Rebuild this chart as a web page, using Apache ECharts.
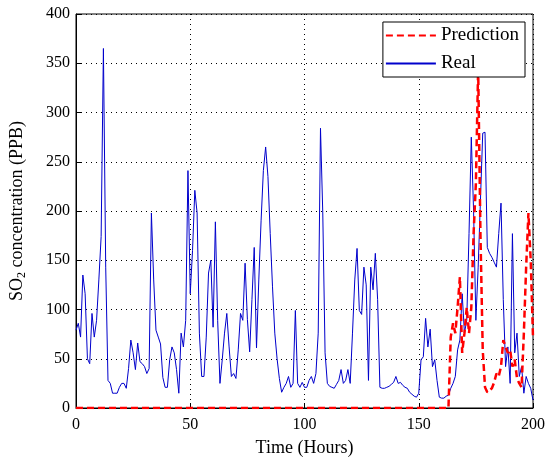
<!DOCTYPE html>
<html><head><meta charset="utf-8">
<script src="https://cdn.jsdelivr.net/npm/echarts@6/dist/echarts.min.js"></script>
<style>html,body{margin:0;padding:0;background:#fff}#c{width:550px;height:464px}</style>
</head><body><div id="c"></div>
<script>
const xTicks = [0, 50, 100, 150, 200];
const yTicks = [0, 50, 100, 150, 200, 250, 300, 350, 400];
// Real SO2 concentration, hour 0..200
const realValues = [
 79,86,72,135,116,50,45,96,72,89,
 130,174,365,143,28,25,15,15,15,21,
 25,25,20,40,69,56,39,66,47,45,
 42,35,40,198,130,79,72,65,31,21,
 21,49,62,56,39,15,76,62,89,241,
 116,160,221,198,76,32,32,72,137,150,
 82,189,89,25,49,76,96,62,32,35,
 30,59,96,89,147,90,57,110,163,61,
 130,190,241,265,235,177,123,76,50,30,
 16,21,25,32,21,25,99,25,21,26,
 21,21,28,32,25,35,76,284,198,56,
 25,22,21,20,24,28,39,25,28,39,
 25,76,130,162,99,95,143,125,28,143,
 120,157,110,21,20,20,21,22,24,26,
 32,25,26,23,21,20,16,14,12,11,
 15,49,52,91,62,80,42,49,28,11,
 10,10,12,13,20,25,32,59,69,116,
 76,89,177,275,200,89,143,211,279,280,
 163,157,153,148,143,177,208,110,42,62,
 25,177,56,76,32,42,15,32,25,20,
 8
];
// Prediction, hour 164..200 (zero before)
const predStart = 164;
const predValues = [
 72,86,76,102,133,56,76,102,76,102,
 177,228,345,177,59,21,16,18,20,26,
 35,32,42,69,62,56,59,42,49,30,
 25,21,76,143,198,150,72
];
const realData = realValues.map((v, i) => [i, v]);
const predData = [];
for (let i = 0; i < predStart; i++) predData.push([i, 0]);
predValues.forEach((v, i) => predData.push([predStart + i, v]));

const serif = 'Liberation Serif';
const chart = echarts.init(document.getElementById('c'));
chart.setOption({
  animation: false,
  backgroundColor: '#fff',
  grid: { left: 76, right: 17, top: 14, bottom: 56, show: true, borderColor: '#000', borderWidth: 1,
          backgroundColor: 'transparent', outerBoundsMode: 'none', containLabel: false },
  legend: {
    right: 25, top: 22, orient: 'vertical', itemGap: 9, itemWidth: 50, itemHeight: 22,
    backgroundColor: '#fff', borderColor: '#000', borderWidth: 1, padding: [4, 6, 4, 2],
    itemStyle: { opacity: 0 },
    textStyle: { fontFamily: serif, fontSize: 19, color: '#000' },
    data: ['Prediction', 'Real'], z: 10
  },
  xAxis: {
    type: 'value', min: 0, max: 200, interval: 50,
    name: 'Time (Hours)', nameLocation: 'middle', nameGap: 31,
    nameTextStyle: { fontFamily: serif, fontSize: 18, color: '#000' },
    axisLine: { lineStyle: { color: '#000' } },
    axisTick: { inside: true, length: 5, lineStyle: { color: '#000' } },
    axisLabel: { fontFamily: serif, fontSize: 16, color: '#000', margin: 9 },
    splitLine: { show: true, lineStyle: { color: '#000', type: [1, 4], width: 1 } }
  },
  yAxis: {
    type: 'value', min: 0, max: 400, interval: 50,
    name: '{n|SO}{s|2}{n| concentration (PPB)}', nameLocation: 'middle', nameGap: 48,
    nameTextStyle: { rich: { n: { fontFamily: serif, fontSize: 18, color: '#000' }, s: { fontFamily: serif, fontSize: 12, color: '#000', padding: [10, 0, 0, 0] } } },
    axisLine: { lineStyle: { color: '#000' } },
    axisTick: { inside: true, length: 5, lineStyle: { color: '#000' } },
    axisLabel: { fontFamily: serif, fontSize: 16, color: '#000', margin: 6 },
    splitLine: { show: true, lineStyle: { color: '#000', type: [1, 4], width: 1 } }
  },
  series: [
    { name: 'Prediction', type: 'line', data: predData, symbol: 'none', z: 3,
      lineStyle: { color: '#ff0000', width: 2.5, type: [7, 4] }, itemStyle: { color: '#ff0000' } },
    { name: 'Real', type: 'line', data: realData, symbol: 'none', z: 2,
      lineStyle: { color: '#0000cc', width: 1 }, itemStyle: { color: '#0000cc' } }
  ]
});
</script></body></html>
